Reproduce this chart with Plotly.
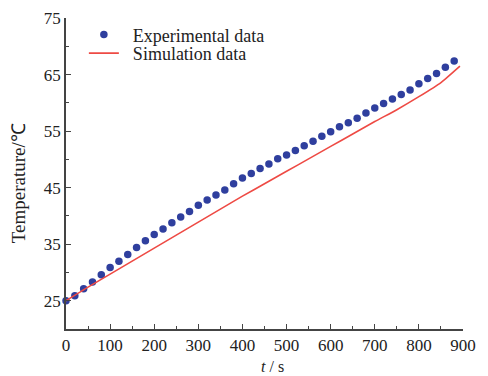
import plotly.graph_objects as go

# Experimental data (every 20 s)
exp_t = list(range(0, 900, 20))
exp_T = [25.0, 25.9, 27.1, 28.3, 29.6, 30.9, 32.0, 33.2, 34.4, 35.6,
         36.7, 37.7, 38.8, 39.8, 40.8, 41.9, 42.8, 43.7, 44.6, 45.7,
         46.7, 47.5, 48.4, 49.2, 50.1, 50.8, 51.6, 52.4, 53.2, 54.1,
         54.9, 55.8, 56.5, 57.3, 58.2, 59.1, 59.9, 60.7, 61.5, 62.3,
         63.4, 64.3, 65.2, 66.3, 67.4]

# Simulation data
sim_t = [0, 50, 100, 150, 200, 250, 300, 350, 400, 450, 500, 550, 600,
         650, 700, 750, 800, 850, 893]
sim_T = [25.0, 27.4, 29.7, 32.0, 34.3, 36.6, 38.9, 41.2, 43.5, 45.7, 47.9,
         50.1, 52.3, 54.5, 56.7, 58.8, 61.1, 63.6, 66.5]

x_ticks = [0, 100, 200, 300, 400, 500, 600, 700, 800, 900]
y_ticks = [25, 35, 45, 55, 65, 75]

FONT = "Times New Roman, Liberation Serif, serif"
AX = "#444444"
TXT = "#222222"

fig = go.Figure()
fig.add_trace(go.Scatter(
    x=exp_t, y=exp_T, mode="markers", name="&nbsp;&nbsp;Experimental data",
    marker=dict(color="#2f3f9e", size=7.5, line=dict(width=0)),
    cliponaxis=False, legend="legend"))
fig.add_trace(go.Scatter(
    x=sim_t, y=sim_T, mode="lines", name="&nbsp;&nbsp;Simulation data",
    line=dict(color="#ee4a44", width=1.6, shape="spline", smoothing=0.6),
    legend="legend2"))

leg_common = dict(xanchor="left", yanchor="middle", bgcolor="rgba(0,0,0,0)",
                  font=dict(family=FONT, size=18, color=TXT), itemsizing="trace")

fig.update_layout(
    width=488, height=376,
    margin=dict(l=66, r=25, t=9, b=47),
    paper_bgcolor="white", plot_bgcolor="white",
    font=dict(family=FONT, size=16, color=TXT),
    showlegend=True,
    legend=dict(x=0.045, y=0.946, **leg_common),
    legend2=dict(x=0.045, y=0.886, **leg_common),
    xaxis=dict(range=[0, 900], tickvals=x_ticks, ticks="inside", ticklen=5,
               tickcolor=AX, tickwidth=1, showline=True, linecolor=AX, linewidth=1.5,
               showgrid=False, zeroline=False,
               minor=dict(dtick=50, tick0=0, ticks="inside", ticklen=3, tickcolor=AX, showgrid=False),
               tickfont=dict(family=FONT, size=17, color=TXT)),
    yaxis=dict(range=[20, 75.02], tickvals=y_ticks, ticks="inside", ticklen=5,
               tickcolor=AX, tickwidth=1, showline=True, linecolor=AX, linewidth=1.5,
               showgrid=False, zeroline=False,
               minor=dict(dtick=5, tick0=20, ticks="inside", ticklen=3, tickcolor=AX, showgrid=False),
               tickfont=dict(family=FONT, size=17, color=TXT)),
    annotations=[
        dict(text="Temperature/℃", textangle=-90, xref="paper", yref="paper",
             x=-0.12, y=0.47, xanchor="center", yanchor="middle", showarrow=False,
             font=dict(family=FONT, size=19, color=TXT)),
        dict(text="<i>t</i> / s", xref="paper", yref="paper",
             x=0.52, y=-0.12, xanchor="center", yanchor="middle", showarrow=False,
             font=dict(family=FONT, size=16, color=TXT)),
    ],
)

fig.write_html("out.html")
